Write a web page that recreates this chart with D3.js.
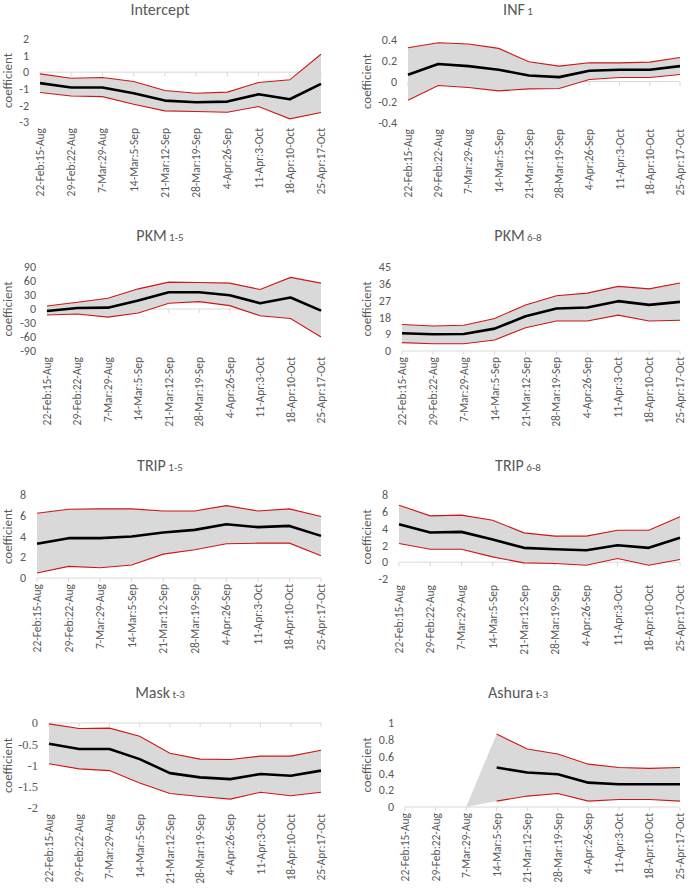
<!DOCTYPE html>
<html>
<head>
<meta charset="utf-8">
<script src="https://cdn.jsdelivr.net/npm/d3@7"></script>
<style>
  body { margin: 0; background: #fff; }
  svg { display: block; }
</style>
</head>
<body>
<div id="chart"></div>
<script>
const weeks = ["22-Feb:15-Aug", "29-Feb:22-Aug", "7-Mar:29-Aug", "14-Mar:5-Sep", "21-Mar:12-Sep",
    "28-Mar:19-Sep", "4-Apr:26-Sep", "11-Apr:3-Oct", "18-Apr:10-Oct", "25-Apr:17-Oct"]

// coefficient, upper bound, lower bound for each variable
const interceptCoef = [-0.66, -0.92, -0.92, -1.27, -1.71, -1.81, -1.77, -1.33, -1.63, -0.70]
const interceptHi = [-0.10, -0.36, -0.32, -0.56, -1.10, -1.27, -1.20, -0.62, -0.46, 1.08]
const interceptLo = [-1.22, -1.43, -1.47, -1.93, -2.33, -2.37, -2.41, -2.07, -2.81, -2.43]

const inf1Coef = [0.065, 0.168, 0.148, 0.113, 0.058, 0.042, 0.103, 0.113, 0.113, 0.148]
const inf1Hi = [0.326, 0.374, 0.361, 0.319, 0.19, 0.148, 0.18, 0.18, 0.187, 0.232]
const inf1Lo = [-0.18, -0.039, -0.058, -0.09, -0.071, -0.068, 0.019, 0.039, 0.039, 0.068]

const pkm15Coef = [-4.3, 2.2, 2.9, 18, 36, 36, 29.5, 12.2, 24.5, -3.6]
const pkm15Hi = [6.5, 14.4, 23, 43.2, 57.6, 56.9, 55.4, 41.8, 67.7, 55.4]
const pkm15Lo = [-13, -10.8, -17.3, -8.6, 12.2, 15.8, 7.2, -14.4, -20.2, -59.8]

const pkm68Coef = [9.5, 9.0, 9.1, 12, 18.6, 22.8, 23.3, 26.7, 24.7, 26.3]
const pkm68Hi = [14.2, 13.4, 13.8, 17.4, 24.7, 29.6, 31, 34.6, 33.3, 36.4]
const pkm68Lo = [4.5, 3.9, 3.9, 5.9, 12.5, 16.1, 16.1, 19.2, 16.1, 16.5]

const trip15Coef = [3.3, 3.84, 3.84, 4.0, 4.38, 4.64, 5.18, 4.9, 5.02, 4.06]
const trip15Hi = [6.24, 6.62, 6.66, 6.66, 6.46, 6.46, 6.98, 6.46, 6.66, 5.92]
const trip15Lo = [0.48, 1.12, 0.99, 1.25, 2.3, 2.72, 3.3, 3.36, 3.36, 2.14]

const trip68Coef = [4.52, 3.53, 3.61, 2.7, 1.71, 1.55, 1.43, 2.02, 1.71, 2.9]
const trip68Hi = [6.79, 5.52, 5.6, 5.0, 3.49, 3.1, 3.1, 3.81, 3.81, 5.4]
const trip68Lo = [2.22, 1.55, 1.55, 0.63, -0.08, -0.16, -0.36, 0.44, -0.36, 0.32]

const maskCoef = [-0.49, -0.61, -0.61, -0.85, -1.18, -1.28, -1.32, -1.2, -1.24, -1.12]
const maskHi = [-0.02, -0.13, -0.12, -0.31, -0.71, -0.85, -0.86, -0.78, -0.78, -0.64]
const maskLo = [-0.96, -1.08, -1.12, -1.41, -1.66, -1.73, -1.79, -1.63, -1.71, -1.63]

// Ashura only enters from the 4th window; the 3rd is an empty (zero) cell
const ashuraCoef = [null, null, null, 0.47, 0.41, 0.39, 0.29, 0.27, 0.27, 0.27]
const ashuraHi = [null, null, 0, 0.87, 0.69, 0.63, 0.51, 0.47, 0.46, 0.47]
const ashuraLo = [null, null, 0, 0.07, 0.13, 0.16, 0.07, 0.09, 0.09, 0.07]

const interceptTicks = [-3, -2, -1, 0, 1, 2]
const inf1Ticks = [-0.4, -0.2, 0, 0.2, 0.4]
const pkm15Ticks = [-90, -60, -30, 0, 30, 60, 90]
const pkm68Ticks = [0, 9, 18, 27, 36, 45]
const trip15Ticks = [0, 2, 4, 6, 8]
const trip68Ticks = [-2, 0, 2, 4, 6, 8]
const maskTicks = [-2, -1.5, -1, -0.5, 0]
const ashuraTicks = [0, 0.2, 0.4, 0.6, 0.8, 1]

const W = 689, H = 888
const svg = d3.select("#chart").append("svg").attr("width", W).attr("height", H)

const font = "Calibri, 'Liberation Sans', Arial, sans-serif"
const grey = "#595959"

const panels = [
    { title: "Intercept", sub: "", coef: interceptCoef, hi: interceptHi, lo: interceptLo, ticks: interceptTicks,
        x0: 40, x1: 321, top: 39, bottom: 122, titleY: 15, cx: 160 },
    { title: "INF", sub: "1", coef: inf1Coef, hi: inf1Hi, lo: inf1Lo, ticks: inf1Ticks,
        x0: 408, x1: 680, top: 40, bottom: 123, titleY: 15, cx: 518 },
    { title: "PKM", sub: "1-5", coef: pkm15Coef, hi: pkm15Hi, lo: pkm15Lo, ticks: pkm15Ticks,
        x0: 47, x1: 321, top: 267, bottom: 351, titleY: 241, cx: 160 },
    { title: "PKM", sub: "6-8", coef: pkm68Coef, hi: pkm68Hi, lo: pkm68Lo, ticks: pkm68Ticks,
        x0: 402, x1: 680, top: 267, bottom: 351, titleY: 241, cx: 518 },
    { title: "TRIP", sub: "1-5", coef: trip15Coef, hi: trip15Hi, lo: trip15Lo, ticks: trip15Ticks,
        x0: 37, x1: 321, top: 495, bottom: 578, titleY: 471, cx: 160 },
    { title: "TRIP", sub: "6-8", coef: trip68Coef, hi: trip68Hi, lo: trip68Lo, ticks: trip68Ticks,
        x0: 399, x1: 680, top: 495, bottom: 579, titleY: 471, cx: 518 },
    { title: "Mask", sub: "t-3", coef: maskCoef, hi: maskHi, lo: maskLo, ticks: maskTicks, serifTicks: true,
        x0: 49, x1: 321, top: 723, bottom: 808, titleY: 698, cx: 160 },
    { title: "Ashura", sub: "t-3", coef: ashuraCoef, hi: ashuraHi, lo: ashuraLo, ticks: ashuraTicks,
        x0: 405, x1: 680, top: 723, bottom: 807, titleY: 698, cx: 518 }
]

panels.forEach(p => drawPanel(p))

function drawPanel(p) {
    let x = d3.scalePoint().domain(weeks).range([p.x0, p.x1])
    let y = d3.scaleLinear().domain(d3.extent(p.ticks)).range([p.bottom, p.top])
    let g = svg.append("g")

    // title with small suffix
    let t = g.append("text")
        .attr("x", p.cx).attr("y", p.titleY)
        .attr("text-anchor", "middle")
        .style("font-family", font).style("fill", grey)
    t.append("tspan").style("font-size", "16px").text(p.title)
    if (p.sub) t.append("tspan").style("font-size", "11px").text(" " + p.sub)

    // band between bounds
    let rows = weeks.map((w, i) => ({ w: w, c: p.coef[i], hi: p.hi[i], lo: p.lo[i] }))
    g.append("path")
        .datum(rows)
        .attr("fill", "#d9d9d9")
        .attr("d", d3.area()
            .defined(d => d.hi != null)
            .x(d => x(d.w))
            .y0(d => y(d.lo))
            .y1(d => y(d.hi)))

    // horizontal axis at zero
    let zeroY = y(Math.max(d3.min(p.ticks), 0))
    g.append("line")
        .attr("x1", p.x0).attr("x2", p.x1)
        .attr("y1", zeroY).attr("y2", zeroY)
        .attr("stroke", "#d9d9d9").attr("stroke-width", 1)
    g.selectAll(".tk").data(weeks).enter().append("line")
        .attr("x1", d => x(d)).attr("x2", d => x(d))
        .attr("y1", zeroY).attr("y2", zeroY + 4)
        .attr("stroke", "#d9d9d9")

    let lineOf = key => d3.line()
        .defined(d => d[key] != null && !(key != "c" && d.c == null))
        .x(d => x(d.w))
        .y(d => y(d[key]))

    ;["hi", "lo"].forEach(k => {
        g.append("path").datum(rows)
            .attr("fill", "none")
            .attr("stroke", "#d01515")
            .attr("stroke-width", 1.1)
            .attr("d", lineOf(k))
    })
    g.append("path").datum(rows)
        .attr("fill", "none")
        .attr("stroke", "#000")
        .attr("stroke-width", 2.6)
        .attr("stroke-linejoin", "round")
        .attr("d", lineOf("c"))

    // y tick labels
    g.selectAll(".yl").data(p.ticks).enter().append("text")
        .attr("x", p.x0 - 11)
        .attr("y", d => y(d))
        .attr("dy", "0.35em")
        .attr("text-anchor", "end")
        .style("font-family", p.serifTicks ? "'Liberation Serif', 'Times New Roman', serif" : font)
        .style("font-size", p.serifTicks ? "12.5px" : "12px")
        .style("fill", grey)
        .text(d => String(+d.toFixed(2)))

    // y axis title
    let ax = p.x0 < 200 ? 12 : 371
    g.append("text")
        .attr("transform", "translate(" + ax + "," + (p.top + p.bottom) / 2 + ")rotate(-90)")
        .attr("text-anchor", "middle")
        .style("font-family", font).style("font-size", "13px").style("fill", grey)
        .text("coefficient")

    // category labels, rotated
    g.selectAll(".xl").data(weeks).enter().append("text")
        .attr("transform", d => "translate(" + (x(d) + 4) + "," + (p.bottom + 6) + ")rotate(-90)")
        .attr("text-anchor", "end")
        .style("font-family", font).style("font-size", "11.5px").style("fill", grey)
        .text(d => d)
}
</script>
</body>
</html>
